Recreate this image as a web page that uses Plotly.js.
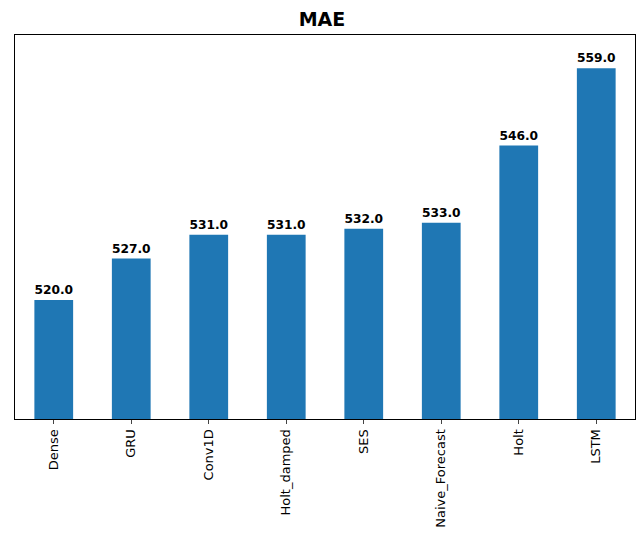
<!DOCTYPE html>
<html><head><script src="https://cdn.plot.ly/plotly-3.0.1.min.js"></script></head>
<body style="margin:0"><div id="c" style="width:644px;height:544px"></div>
<script>
const models = ["Dense","GRU","Conv1D","Holt_damped","SES","Naive_Forecast","Holt","LSTM"];
const mae = [520,527,531,531,532,533,546,559];
Plotly.newPlot('c',[{type:'bar',x:models,y:mae,width:0.5,marker:{color:'#1f77b4'},
  text:mae.map(v=>'<b>'+v.toFixed(1)+'</b>'),textposition:'outside',cliponaxis:false,
  textfont:{family:'DejaVu Sans',size:13,color:'black'}}],
{width:644,height:544,margin:{l:15,r:9,t:35,b:125},paper_bgcolor:'white',plot_bgcolor:'white',
 title:{text:'<b>MAE</b>',font:{family:'DejaVu Sans',size:19,color:'black'},x:0.5,y:0.965,yanchor:'middle'},
 font:{family:'DejaVu Sans',size:13,color:'black'},showlegend:false,
 xaxis:{tickangle:-90,showline:true,mirror:true,linecolor:'black',ticks:'outside',ticklen:4,range:[-0.5,7.5]},
 yaxis:{range:[500,564.6],showticklabels:false,showgrid:false,zeroline:false,showline:true,mirror:true,linecolor:'black',ticks:''}
},{displayModeBar:false});
</script></body></html>
